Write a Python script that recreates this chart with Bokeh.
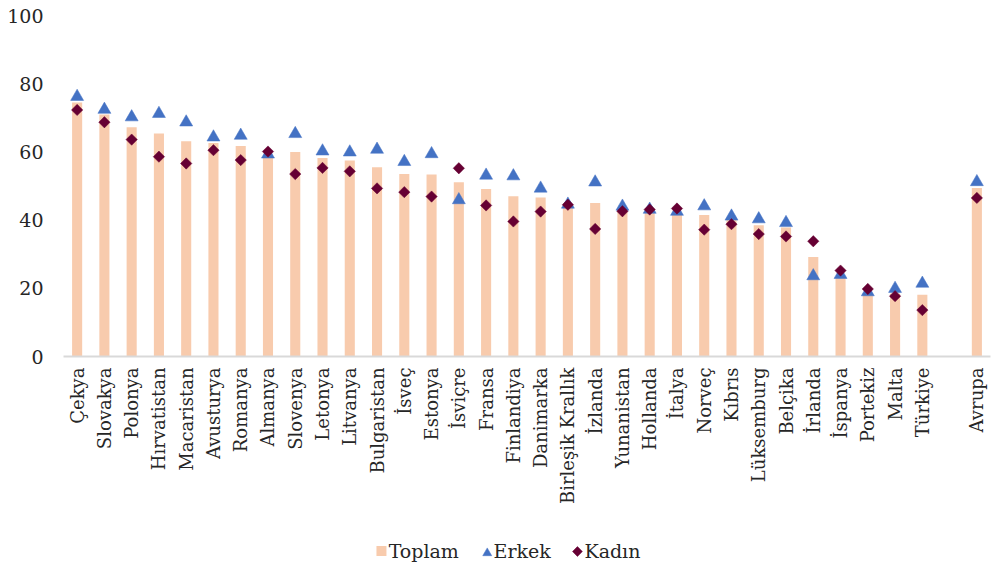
import numpy as np
from bokeh.plotting import figure
from bokeh.layouts import column
from bokeh.models import ColumnDataSource, FactorRange, Range1d, FixedTicker
from bokeh.core.properties import value
from bokeh.embed import file_html
from bokeh.resources import INLINE

categories = ["Çekya", "Slovakya", "Polonya", "Hırvatistan", "Macaristan", "Avusturya",
              "Romanya", "Almanya", "Slovenya", "Letonya", "Litvanya", "Bulgaristan",
              "İsveç", "Estonya", "İsviçre", "Fransa", "Finlandiya", "Danimarka",
              "Birleşik Krallık", "İzlanda", "Yunanistan", "Hollanda", "İtalya", "Norveç",
              "Kıbrıs", "Lüksemburg", "Belçika", "İrlanda", "İspanya", "Portekiz",
              "Malta", "Türkiye", " ", "Avrupa"]

toplam = [74.5, 71.0, 67.2, 65.4, 63.1, 62.6, 61.7, 58.3, 60.0, 58.2, 57.5, 55.5,
          53.5, 53.4, 51.1, 49.1, 47.0, 46.6, 44.0, 45.0, 42.5, 42.2, 41.8, 41.5,
          40.0, 38.5, 37.8, 29.2, 23.3, 18.3, 18.4, 18.1, None, 49.4]
erkek = [76.2, 72.4, 70.2, 71.2, 68.7, 64.3, 64.8, 59.3, 65.3, 60.2, 59.9, 60.7,
         57.1, 59.4, 45.9, 53.1, 52.9, 49.3, 44.6, 51.1, 44.0, 43.1, 42.5, 44.1,
         41.1, 40.3, 39.2, 23.6, 24.0, 18.9, 19.9, 21.4, None, 51.2]
kadin = [72.3, 68.7, 63.6, 58.6, 56.6, 60.5, 57.6, 60.1, 53.5, 55.3, 54.3, 49.3,
         48.2, 46.9, 55.2, 44.3, 39.6, 42.5, 44.5, 37.4, 42.6, 43.1, 43.4, 37.2,
         38.8, 35.9, 35.2, 33.8, 25.2, 19.8, 17.7, 13.6, None, 46.5]
series_names = ["Toplam", "Erkek", "Kadın"]
y_ticks = [0, 20, 40, 60, 80, 100]

FONT = "DejaVu Serif"
TXT = "#262626"
C_BAR, C_TRI, C_DIA = "#F8CBAD", "#4472C4", "#660033"

def nz(vals):
    return [np.nan if v is None else v for v in vals]

src = ColumnDataSource(dict(cat=categories, toplam=nz(toplam), erkek=nz(erkek), kadin=nz(kadin)))

p = figure(width=991, height=530, x_range=FactorRange(*categories, range_padding=0),
           y_range=Range1d(0, 100), output_backend="svg", toolbar_location=None,
           min_border_left=63, min_border_right=1, min_border_top=15, min_border_bottom=174)

p.vbar(x="cat", top="toplam", width=0.37, source=src, fill_color=C_BAR, line_color=None)
p.scatter(x="cat", y="erkek", marker="triangle", size=13, source=src,
          fill_color=C_TRI, line_color=C_TRI, line_width=0.5)
p.scatter(x="cat", y="kadin", marker="square", angle=np.pi / 4, size=8, source=src,
          fill_color=C_DIA, line_color=C_DIA, line_width=0.5)

p.outline_line_color = None
p.xgrid.grid_line_color = None
p.ygrid.grid_line_color = None

p.yaxis.ticker = FixedTicker(ticks=y_ticks)
p.yaxis.axis_line_color = None
p.yaxis.major_tick_line_color = None
p.yaxis.minor_tick_line_color = None
p.yaxis.major_tick_out = 0
p.yaxis.major_label_text_font = FONT
p.yaxis.major_label_text_font_size = "19px"
p.yaxis.major_label_text_color = TXT
p.yaxis.major_label_standoff = 20

p.xaxis.axis_line_color = "#D9D9D9"
p.xaxis.axis_line_width = 2
p.xaxis.major_tick_line_color = None
p.xaxis.minor_tick_line_color = None
p.xaxis.major_tick_out = 0
p.xaxis.major_label_orientation = np.pi / 2
p.xaxis.major_label_text_font = FONT
p.xaxis.major_label_text_font_size = "18px"
p.xaxis.major_label_text_color = TXT
p.xaxis.major_label_standoff = 11

# legend strip; its frame is aligned with the chart frame (page x 63..991)
lp = figure(width=991, height=39, output_backend="svg", toolbar_location=None,
            x_range=Range1d(63, 991), y_range=Range1d(569, 530),
            x_axis_location=None, y_axis_location=None,
            min_border=0, outline_line_color=None)
lp.grid.visible = False
lp.scatter(x=[381.3], y=[550.5], marker="square", size=10, fill_color=C_BAR, line_color=None)
lp.scatter(x=[487.2], y=[552.6], marker="triangle", size=9, fill_color=C_TRI, line_color=C_TRI,
           line_width=0.5)
lp.scatter(x=[577.5], y=[551.0], marker="square", angle=np.pi / 4, size=7, fill_color=C_DIA,
           line_color=C_DIA, line_width=0.5)
lp.text(x=[388.5, 493.5, 584.5], y=[550.0, 550.0, 550.0], text=series_names,
        text_font=value(FONT), text_font_size="19px", text_color=TXT,
        text_baseline="alphabetic", text_align="left")

open("out.html", "w").write(file_html(column(p, lp, spacing=0), INLINE))
